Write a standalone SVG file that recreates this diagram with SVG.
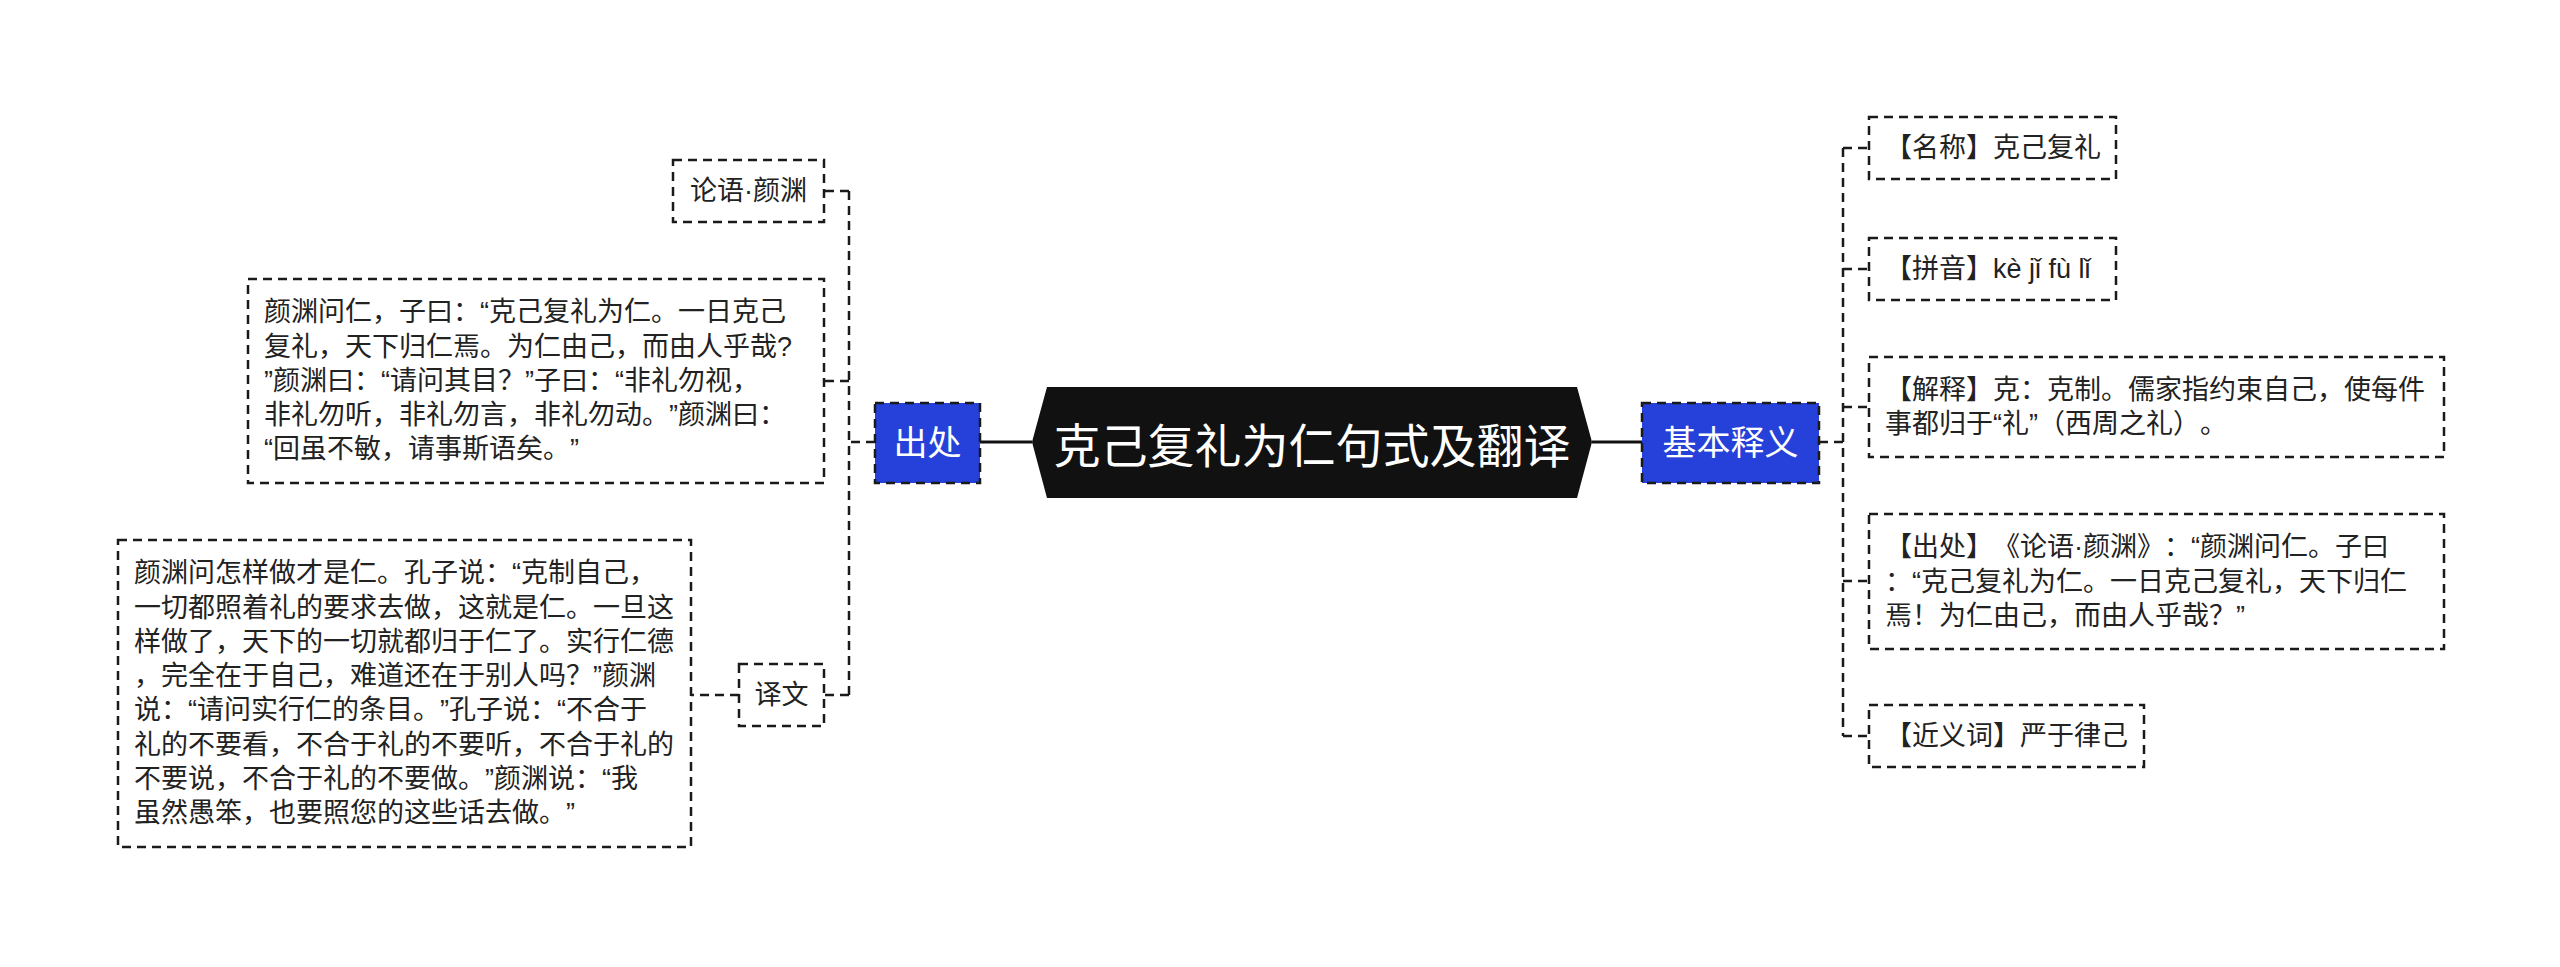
<svg xmlns="http://www.w3.org/2000/svg" width="2560" height="967" viewBox="0 0 2560 967">
<style>
.bg{fill:#ffffff}
.box{fill:#ffffff;stroke:#1a1a1a;stroke-width:2.5;stroke-dasharray:9 6}
.blue{fill:#2541d9;stroke:#1a1a1a;stroke-width:2.5;stroke-dasharray:9 6}
.hex{fill:#111111}
text{text-spacing-trim:space-all;font-feature-settings:"chws" 0,"halt" 0}
.t{font-family:"Liberation Sans","Noto Sans CJK SC",sans-serif;font-size:27px;fill:#222222;dominant-baseline:central}
.tb{font-family:"Liberation Sans","Noto Sans CJK SC",sans-serif;font-size:34px;fill:#ffffff;dominant-baseline:central;text-anchor:middle}
.tc{font-family:"Noto Sans CJK SC",sans-serif;font-size:47px;fill:#ffffff;dominant-baseline:central;text-anchor:middle}
.solid{stroke:#111111;stroke-width:3;fill:none}
.dash{stroke:#1a1a1a;stroke-width:2.5;stroke-dasharray:9 6;fill:none}
</style>
<rect class="bg" x="0" y="0" width="2560" height="967"/>
<g id="connectors">
<line class="solid" x1="980" y1="442" x2="1032" y2="442"/>
<line class="solid" x1="1592" y1="442" x2="1642" y2="442"/>
<path class="dash" d="M875 442 H849 M849 191 V695 M849 191 H824 M849 381 H824 M849 695 H824 M739 695 H691"/>
<path class="dash" d="M1819 442 H1843 M1843 148 V736 M1843 148 H1869 M1843 269 H1869 M1843 407 H1869 M1843 581 H1869 M1843 736 H1869"/>
</g>
<g id="root">
<polygon class="hex" points="1032,442 1047,387 1577,387 1592,442 1577,498 1047,498"/>
<text class="tc" x="1312" y="442">克己复礼为仁句式及翻译</text>
</g>
<g id="n-chuchu">
<rect class="blue" x="875" y="403" width="105" height="80"/>
<text class="tb" x="927.5" y="443">出处</text>
</g>
<g id="n-jiben">
<rect class="blue" x="1642" y="403" width="177" height="80"/>
<text class="tb" x="1730.5" y="443">基本释义</text>
</g>
<g id="n-lunyu">
<rect class="box" x="673" y="160" width="151" height="62"/>
<text class="t" x="748.5" y="191" text-anchor="middle">论语·颜渊</text>
</g>
<g id="n-yuanwen">
<rect class="box" x="248" y="279" width="576" height="204"/>
<text class="t" x="264" y="312.2">颜渊问仁，子曰：“克己复礼为仁。一日克己</text>
<text class="t" x="264" y="346.5">复礼，天下归仁焉。为仁由己，而由人乎哉?</text>
<text class="t" x="264" y="380.8">”颜渊曰：“请问其目？”子曰：“非礼勿视，</text>
<text class="t" x="264" y="415.1">非礼勿听，非礼勿言，非礼勿动。”颜渊曰：</text>
<text class="t" x="264" y="449.4">“回虽不敏，请事斯语矣。”</text>
</g>
<g id="n-yiwen">
<rect class="box" x="739" y="664" width="85" height="62"/>
<text class="t" x="781.5" y="695" text-anchor="middle">译文</text>
</g>
<g id="n-yiwen-text">
<rect class="box" x="118" y="540" width="573" height="307"/>
<text class="t" x="134" y="573.2">颜渊问怎样做才是仁。孔子说：“克制自己，</text>
<text class="t" x="134" y="607.5">一切都照着礼的要求去做，这就是仁。一旦这</text>
<text class="t" x="134" y="641.8">样做了，天下的一切就都归于仁了。实行仁德</text>
<text class="t" x="134" y="676.1">，完全在于自己，难道还在于别人吗？”颜渊</text>
<text class="t" x="134" y="710.4">说：“请问实行仁的条目。”孔子说：“不合于</text>
<text class="t" x="134" y="744.7">礼的不要看，不合于礼的不要听，不合于礼的</text>
<text class="t" x="134" y="779.0">不要说，不合于礼的不要做。”颜渊说：“我</text>
<text class="t" x="134" y="813.3">虽然愚笨，也要照您的这些话去做。”</text>
</g>
<g id="n-mingcheng">
<rect class="box" x="1869" y="117" width="247" height="62"/>
<text class="t" x="1885" y="148">【名称】克己复礼</text>
</g>
<g id="n-pinyin">
<rect class="box" x="1869" y="238" width="247" height="62"/>
<text class="t" x="1885" y="269">【拼音】kè jǐ fù lǐ</text>
</g>
<g id="n-jieshi">
<rect class="box" x="1869" y="357" width="575" height="100"/>
<text class="t" x="1885" y="390">【解释】克：克制。儒家指约束自己，使每件</text>
<text class="t" x="1885" y="424.3">事都归于“礼”（西周之礼）。</text>
</g>
<g id="n-chuchu2">
<rect class="box" x="1869" y="514" width="575" height="135"/>
<text class="t" x="1885" y="547.2">【出处】《论语·颜渊》：“颜渊问仁。子曰</text>
<text class="t" x="1885" y="581.5">：“克己复礼为仁。一日克己复礼，天下归仁</text>
<text class="t" x="1885" y="615.8">焉！为仁由己，而由人乎哉？”</text>
</g>
<g id="n-jinyici">
<rect class="box" x="1869" y="705" width="275" height="62"/>
<text class="t" x="1885" y="736">【近义词】严于律己</text>
</g>
</svg>
